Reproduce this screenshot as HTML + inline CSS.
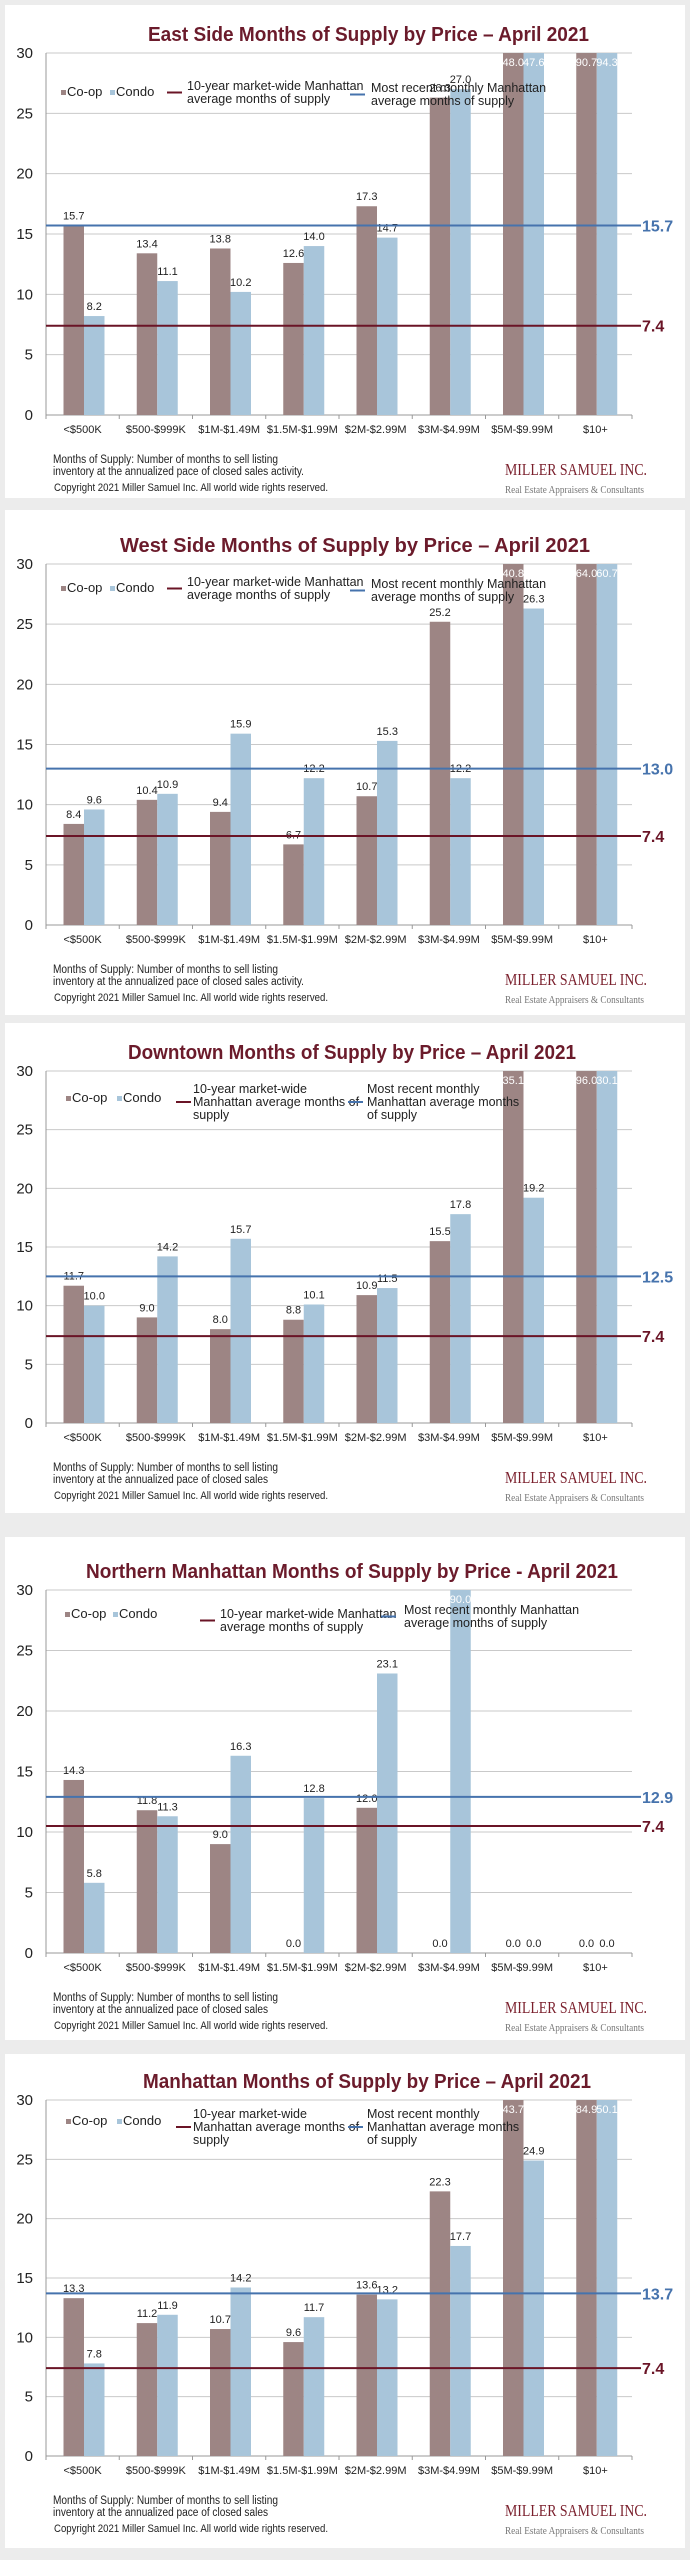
<!DOCTYPE html>
<html><head><meta charset="utf-8"><style>
html,body{margin:0;padding:0;background:#ececec;}
svg{display:block;font-family:"Liberation Sans",Arial,sans-serif;}
</style></head>
<body>
<svg id="page" width="690" height="2560" viewBox="0 0 690 2560" xmlns="http://www.w3.org/2000/svg"></svg>
<script>
const categories = ["<$500K","$500-$999K","$1M-$1.49M","$1.5M-$1.99M","$2M-$2.99M","$3M-$4.99M","$5M-$9.99M","$10+"];
const yTicks = [0,5,10,15,20,25,30];

const eastCoop = [15.7,13.4,13.8,12.6,17.3,26.3,48.0,90.7];
const eastCondo = [8.2,11.1,10.2,14.0,14.7,27.0,47.6,94.3];
const eastLines = [15.7,7.4];

const westCoop = [8.4,10.4,9.4,6.7,10.7,25.2,40.8,64.0];
const westCondo = [9.6,10.9,15.9,12.2,15.3,12.2,26.3,60.7];
const westLines = [13.0,7.4];

const downCoop = [11.7,9.0,8.0,8.8,10.9,15.5,35.1,96.0];
const downCondo = [10.0,14.2,15.7,10.1,11.5,17.8,19.2,30.1];
const downLines = [12.5,7.4];

const northCoop = [14.3,11.8,9.0,0.0,12.0,0.0,0.0,0.0];
const northCondo = [5.8,11.3,16.3,12.8,23.1,90.0,0.0,0.0];
const northLines = [12.9,10.5];
const northLineLabels = ["12.9","7.4"];

const manCoop = [13.3,11.2,10.7,9.6,13.6,22.3,43.7,84.9];
const manCondo = [7.8,11.9,14.2,11.7,13.2,17.7,24.9,50.1];
const manLines = [13.7,7.4];

const NS="http://www.w3.org/2000/svg";
const svg=document.getElementById('page');
function el(tag,attrs,parent,text){const e=document.createElementNS(NS,tag);for(const k in attrs)e.setAttribute(k,attrs[k]);if(text!==undefined)e.textContent=text;(parent||svg).appendChild(e);return e;}

const charts=[
 {id:'east',title:'East Side Months of Supply by Price – April 2021',tw:441,tx:148,top:5,bottom:498,y30:53,y0:415,coop:eastCoop,condo:eastCondo,lines:eastLines,labels:null,
  red:["10-year  market-wide Manhattan","average months of supply"],blue:["Most recent monthly Manhattan","average months of supply"],legY:37,legSq:45,lay:'a',foot:["Months of Supply: Number of months to sell listing","inventory at the annualized pace of closed sales activity."]},
 {id:'west',title:'West Side Months of Supply by Price – April 2021',tw:470,tx:120,top:510,bottom:1015,y30:564,y0:925,coop:westCoop,condo:westCondo,lines:westLines,labels:null,
  red:["10-year market-wide Manhattan","average months of supply"],blue:["Most recent monthly Manhattan","average months of supply"],legY:22,legSq:30,lay:'a',foot:["Months of Supply: Number of months to sell listing","inventory at the annualized pace of closed sales activity."]},
 {id:'downtown',title:'Downtown Months of Supply by Price – April 2021',tw:448,tx:128,top:1023,bottom:1513,y30:1071,y0:1423,coop:downCoop,condo:downCondo,lines:downLines,labels:null,
  red:["10-year market-wide","Manhattan average months of","supply"],blue:["Most recent monthly","Manhattan average months","of supply"],legY:22,legSq:33,lay:'b',foot:["Months of Supply: Number of months to sell listing","inventory at the annualized pace of closed sales"]},
 {id:'northern',title:'Northern Manhattan Months of Supply by Price - April 2021',tw:532,tx:86,top:1537,bottom:2040,y30:1590,y0:1953,coop:northCoop,condo:northCondo,lines:northLines,labels:northLineLabels,
  red:["10-year market-wide Manhattan","average months of supply"],blue:["Most recent monthly Manhattan","average months of supply"],legY:28,legSq:30,lay:'c',foot:["Months of Supply: Number of months to sell listing","inventory at the annualized pace of closed sales"]},
 {id:'manhattan',title:'Manhattan Months of Supply by Price – April 2021',tw:448,tx:143,top:2054,bottom:2548,y30:2100,y0:2456,coop:manCoop,condo:manCondo,lines:manLines,labels:null,
  red:["10-year market-wide","Manhattan average months of","supply"],blue:["Most recent monthly","Manhattan average months","of supply"],legY:18,legSq:27,lay:'b',foot:["Months of Supply: Number of months to sell listing","inventory at the annualized pace of closed sales"]}
];

const X0=46, X1=632, CW=(X1-X0)/categories.length, BW=20.5;
const COOP='#9d8584', CONDO='#a8c5da', RED='#6a1426', BLUE='#4673ad';

charts.forEach(c=>{
  const g=el('g',{});
  
  
  const panel=el('rect',{x:5,y:c.top,width:680,height:c.bottom-c.top,fill:'#fff'},g);
  
  
  const yS=v=>c.y0-(Math.min(v,30)/30)*(c.y0-c.y30);
  const t=el('text',{x:c.tx,y:c.y30-12,'font-size':20,'font-weight':'bold',fill:'#6b1b2b',textLength:c.tw,lengthAdjust:'spacingAndGlyphs'},g,c.title);
  
  
  yTicks.forEach(v=>{
    const y=yS(v);
    const gl=el('line',{x1:X0,x2:X1,y1:y,y2:y,stroke:v===0?'#999':'#c9c9c9','stroke-width':1},g);
    
    
    const yl=el('text',{x:33,y:y+5,'font-size':15,'text-anchor':'end',fill:'#222'},g,String(v));
    
    
  });
  el('line',{x1:X0,x2:X0,y1:c.y30,y2:c.y0+4,stroke:'#999'},g);
  for(let i=0;i<=categories.length;i++){el('line',{x1:X0+i*CW,x2:X0+i*CW,y1:c.y0,y2:c.y0+4,stroke:'#999'},g);}
  categories.forEach((cat,i)=>{
    const bx=X0+i*CW+17.5;
    [[c.coop[i],COOP,'coop',bx],[c.condo[i],CONDO,'condo',bx+BW]].forEach(([v,col,nm,x])=>{
      const y=yS(v);
      if(v>0){
        const r=el('rect',{x:x,y:y,width:BW,height:c.y0-y,fill:col},g);
        
        
      }
      const over=v>30;
      const lt=el('text',{x:x+BW/2,y:over?c.y30+13:y-6,'font-size':11,'text-anchor':'middle',fill:over?'#fff':'#222'},g,v.toFixed(1));
      
      
    });
    const xl=el('text',{x:X0+i*CW+CW/2,y:c.y0+18,'font-size':11,'text-anchor':'middle',fill:'#222'},g,cat);
    
    
  });
  [[c.lines[0],BLUE,'recent'],[c.lines[1],RED,'ten-year']].forEach(([v,col,nm],k)=>{
    const y=yS(v);
    const ln=el('line',{x1:X0,x2:641,y1:y,y2:y,stroke:col,'stroke-width':2},g);
    
    
    const lab=c.labels?c.labels[k]:v.toFixed(1);
    const lt=el('text',{x:642,y:y+6,'font-size':16,'font-weight':'bold',fill:col},g,lab);
    
    
  });
  const ly=c.y30+c.legY, sq=c.y30+c.legSq;
  const L=c.lay==='c'?{cs:65,ds:113,rl:200,rt:220,bl:381,bt:404}:c.lay==='b'?{cs:66,ds:117,rl:176,rt:193,bl:348,bt:367}:{cs:61,ds:110,rl:167,rt:187,bl:350,bt:371};
  const leg=el('g',{},g);
  
  
  el('rect',{x:L.cs,y:sq-8,width:5,height:5,fill:COOP},leg);
  el('text',{x:L.cs+6,y:sq-2,'font-size':13,fill:'#222'},leg,'Co-op');
  el('rect',{x:L.ds,y:sq-8,width:5,height:5,fill:CONDO},leg);
  el('text',{x:L.ds+6,y:sq-2,'font-size':13,fill:'#222'},leg,'Condo');
  const mid=(c.red.length===3)?1:0.5;
  el('line',{x1:L.rl,x2:L.rl+15,y1:ly+mid*13-4,y2:ly+mid*13-4,stroke:RED,'stroke-width':2},leg);
  c.red.forEach((s,j)=>el('text',{x:L.rt,y:ly+j*13,'font-size':12.5,fill:'#222'},leg,s));
  const by=ly+(c.lay==='c'?-4:c.lay==='a'?2:0);
  el('line',{x1:L.bl,x2:L.bl+15,y1:by+mid*13-4,y2:by+mid*13-4,stroke:BLUE,'stroke-width':2},leg);
  c.blue.forEach((s,j)=>el('text',{x:L.bt,y:by+j*13,'font-size':12.5,fill:'#222'},leg,s));
  const f=el('g',{},g);
  
  
  el('text',{x:53,y:c.y0+48,'font-size':11.5,fill:'#222',textLength:225,lengthAdjust:'spacingAndGlyphs'},f,c.foot[0]);
  el('text',{x:53,y:c.y0+60,'font-size':11.5,fill:'#222',textLength:c.foot[1].length>52?251:215,lengthAdjust:'spacingAndGlyphs'},f,c.foot[1]);
  el('text',{x:54,y:c.y0+76,'font-size':11,fill:'#222',textLength:274,lengthAdjust:'spacingAndGlyphs'},f,'Copyright 2021 Miller Samuel Inc.  All world wide rights reserved.');
  const logo=el('g',{},g);
  
  
  el('text',{x:505,y:c.y0+60,'font-size':17,'font-family':'Liberation Serif, serif',fill:'#7a1f2c',textLength:142,lengthAdjust:'spacingAndGlyphs'},logo,'MILLER SAMUEL INC.');
  el('text',{x:505,y:c.y0+78,'font-size':11,'font-family':'Liberation Serif, serif',fill:'#777',textLength:139,lengthAdjust:'spacingAndGlyphs'},logo,'Real Estate Appraisers & Consultants');
});
</script>
</body></html>
